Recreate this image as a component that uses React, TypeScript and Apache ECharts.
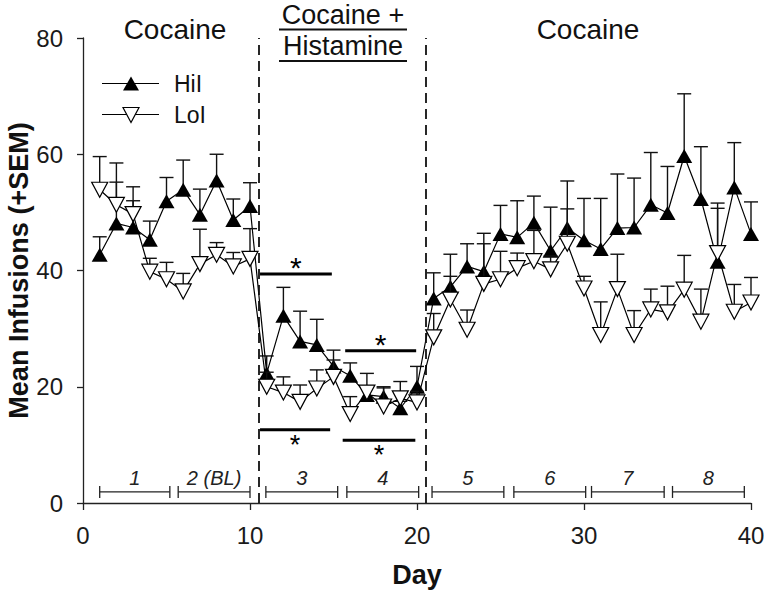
import React, { useEffect, useRef } from "react";
import * as echarts from "echarts";

const FONT = "'Liberation Sans', Arial, Helvetica, sans-serif";

// Days
const days = [
  1, 2, 3, 4, 5, 6, 7, 8, 9, 10, 11, 12, 13, 14, 15, 16, 17, 18, 19, 20,
  21, 22, 23, 24, 25, 26, 27, 28, 29, 30, 31, 32, 33, 34, 35, 36, 37, 38, 39, 40,
];

// HiI means and SEM
const hiMean = [
  42.7, 48.1, 47.4, 45.3, 51.9, 53.9, 49.6, 55.5, 48.7, 51.1,
  22.3, 32.2, 27.8, 27.2, 23.5, 21.9, 18.6, 18.3, 16.3, 20.0,
  35.2, 37.2, 40.7, 39.8, 46.3, 45.7, 48.2, 43.4, 47.3, 45.2,
  43.7, 47.3, 47.4, 51.3, 49.9, 59.7, 52.3, 41.5, 54.3, 46.3,
];
const hiSem = [
  3.1, 7.1, 4.6, 3.2, 4.1, 5.1, 4.4, 4.5, 3.6, 4.0,
  3.0, 4.9, 5.2, 4.4, 2.8, 2.2, 1.5, 1.5, 1.2, 3.5,
  4.4, 5.6, 3.9, 6.6, 4.9, 6.3, 4.6, 7.5, 8.1, 7.2,
  8.7, 9.3, 8.5, 9.0, 8.0, 10.7, 9.0, 9.2, 7.7, 5.5,
];

// LoI means and SEM
const loMean = [
  53.9, 51.3, 49.7, 39.8, 38.5, 36.4, 41.1, 42.7, 40.7, 42.0,
  20.0, 19.0, 17.4, 19.7, 21.7, 15.3, 19.0, 16.6, 18.0, 17.3,
  28.5, 35.0, 29.8, 37.7, 38.5, 40.4, 41.6, 40.2, 44.6, 36.9,
  28.9, 36.8, 28.9, 33.3, 32.8, 36.7, 31.2, 43.0, 32.9, 34.5,
];
const loSem = [
  5.7, 7.2, 4.7, 2.3, 2.9, 3.1, 6.0, 2.1, 2.4, 5.2,
  2.5, 2.7, 2.9, 3.2, 2.9, 3.0, 3.3, 3.4, 2.9, 1.9,
  4.1, 4.0, 3.4, 6.9, 4.8, 2.6, 5.3, 2.3, 6.0, 2.1,
  5.7, 6.0, 4.2, 3.5, 4.5, 5.9, 5.6, 8.6, 4.7, 4.3,
];

// Phase boundaries (dashed lines)
const phaseBoundaries = [10.5, 20.5];

// Block brackets at the bottom
const blockLabels = ["1", "2 (BL)", "3", "4", "5", "6", "7", "8"];
const blockStart = [1.0, 5.7, 10.95, 15.8, 20.9, 25.8, 30.45, 35.3];
const blockEnd = [5.2, 10.0, 15.25, 20.1, 25.2, 30.1, 34.8, 39.6];
const blockLevel = 1.9;

// Significance bars
const sigStart = [10.6, 10.6, 15.7, 15.55];
const sigEnd = [14.9, 14.8, 19.95, 19.9];
const sigLevel = [39.4, 12.6, 26.2, 10.8];
const sigSide = ["above", "below", "above", "below"];

const errorBarItem = (params: any, api: any) => {
  const x = api.value(0);
  const lo = api.value(1);
  const hi = api.value(2);
  const p0 = api.coord([x, lo]);
  const p1 = api.coord([x, hi]);
  const st = { stroke: "#111", lineWidth: 1.4 };
  return {
    type: "group",
    children: [
      { type: "line", shape: { x1: p0[0], y1: p0[1], x2: p1[0], y2: p1[1] }, style: st },
      { type: "line", shape: { x1: p1[0] - 7, y1: p1[1], x2: p1[0] + 7, y2: p1[1] }, style: st },
    ],
  };
};

export default function App() {
  const ref = useRef<HTMLDivElement>(null);
  useEffect(() => {
    if (!ref.current) return;
    const chart = echarts.init(ref.current, undefined, { renderer: "svg" });

    const axisLine = { show: true, lineStyle: { color: "#222", width: 1.3 } };
    const option: any = {
      animation: false,
      backgroundColor: "#fff",
      grid: { left: 83, right: 13, top: 38, bottom: 87, containLabel: false, outerBoundsMode: "none" },
      xAxis: {
        type: "value",
        min: 0,
        max: 40,
        interval: 10,
        axisLine,
        axisTick: { show: true, length: 7, lineStyle: { color: "#222", width: 1.3 } },
        axisLabel: { fontSize: 24, color: "#1a1a1a", margin: 20, fontFamily: FONT },
        splitLine: { show: false },
        name: "Day",
        nameLocation: "middle",
        nameGap: 58,
        nameMoveOverlap: false,
        nameTextStyle: { fontSize: 27, fontWeight: "bold", color: "#111", fontFamily: FONT },
      },
      yAxis: {
        type: "value",
        min: 0,
        max: 80,
        interval: 20,
        axisLine,
        axisTick: { show: true, length: 6, lineStyle: { color: "#222", width: 1.3 } },
        axisLabel: { fontSize: 24, color: "#1a1a1a", margin: 20, fontFamily: FONT },
        splitLine: { show: false },
        name: "Mean Infusions (+SEM)",
        nameLocation: "middle",
        nameGap: 51,
        nameMoveOverlap: false,
        nameTextStyle: { fontSize: 27, fontWeight: "bold", color: "#111", fontFamily: FONT },
      },
      series: [
        {
          type: "custom",
          name: "HiI SEM",
          renderItem: errorBarItem,
          encode: { x: 0, y: [1, 2] },
          data: days.map((d, i) => [d, hiMean[i], +(hiMean[i] + hiSem[i]).toFixed(2)]),
          z: 2,
          silent: true,
        },
        {
          type: "line",
          name: "HiI",
          data: days.map((d, i) => [d, hiMean[i]]),
          symbol: "triangle",
          symbolSize: [16, 14],
          showAllSymbol: true,
          itemStyle: { color: "#000" },
          lineStyle: { color: "#000", width: 1.2 },
          z: 3,
          markLine: {
            silent: true,
            symbol: "none",
            label: { show: false },
            lineStyle: { color: "#111", type: [10, 6], width: 1.8 },
            data: phaseBoundaries.map((b) => ({ xAxis: b })),
          },
        },
        {
          type: "custom",
          name: "LoI SEM",
          renderItem: errorBarItem,
          encode: { x: 0, y: [1, 2] },
          data: days.map((d, i) => [d, loMean[i], +(loMean[i] + loSem[i]).toFixed(2)]),
          z: 4,
          silent: true,
        },
        {
          type: "line",
          name: "LoI",
          data: days.map((d, i) => [d, loMean[i]]),
          symbol: "triangle",
          symbolRotate: 180,
          symbolSize: [16, 15],
          showAllSymbol: true,
          itemStyle: { color: "#fff", borderColor: "#000", borderWidth: 1.2 },
          lineStyle: { color: "#000", width: 1.2 },
          z: 5,
        },
        {
          type: "custom",
          name: "significance",
          silent: true,
          clip: false,
          encode: { x: [0, 1], y: 2 },
          data: sigStart.map((s, i) => [s, sigEnd[i], sigLevel[i]]),
          renderItem: (params: any, api: any) => {
            const i = params.dataIndex;
            const a = api.coord([api.value(0), api.value(2)]);
            const b = api.coord([api.value(1), api.value(2)]);
            const mx = (a[0] + b[0]) / 2;
            const above = sigSide[i] === "above";
            const ty = above ? a[1] - 6 : a[1] + 15;
            return {
              type: "group",
              children: [
                { type: "line", shape: { x1: a[0], y1: a[1], x2: b[0], y2: b[1] }, style: { stroke: "#000", lineWidth: 3 } },
                {
                  type: "text",
                  x: mx,
                  y: ty,
                  style: {
                    text: "*",
                    fontSize: above ? 30 : 27,
                    fontFamily: FONT,
                    fill: "#000",
                    align: "center",
                    verticalAlign: "middle",
                  },
                },
              ],
            };
          },
          z: 6,
        },
        {
          type: "custom",
          name: "blocks",
          silent: true,
          clip: false,
          encode: { x: [0, 1], y: 2 },
          data: blockStart.map((s, i) => [s, blockEnd[i], blockLevel]),
          renderItem: (params: any, api: any) => {
            const i = params.dataIndex;
            const a = api.coord([api.value(0), api.value(2)]);
            const b = api.coord([api.value(1), api.value(2)]);
            const st = { stroke: "#222", lineWidth: 1.3 };
            return {
              type: "group",
              children: [
                { type: "line", shape: { x1: a[0], y1: a[1], x2: b[0], y2: b[1] }, style: st },
                { type: "line", shape: { x1: a[0], y1: a[1] - 6, x2: a[0], y2: a[1] + 6 }, style: st },
                { type: "line", shape: { x1: b[0], y1: b[1] - 6, x2: b[0], y2: b[1] + 6 }, style: st },
                {
                  type: "text",
                  x: (a[0] + b[0]) / 2,
                  y: a[1] - 14,
                  style: {
                    text: blockLabels[i],
                    fontSize: 20,
                    fontStyle: "italic",
                    fontFamily: FONT,
                    fill: "#222",
                    align: "center",
                    verticalAlign: "middle",
                  },
                },
              ],
            };
          },
          z: 6,
        },
      ],
      graphic: [
        {
          type: "text",
          x: 175,
          y: 29,
          style: { text: "Cocaine", fontSize: 28, fontFamily: FONT, fill: "#111", textAlign: "center", textVerticalAlign: "middle" },
        },
        {
          type: "text",
          x: 343,
          y: 14.5,
          style: { text: "Cocaine +", fontSize: 27, fontFamily: FONT, fill: "#111", textAlign: "center", textVerticalAlign: "middle" },
        },
        {
          type: "text",
          x: 343,
          y: 45.5,
          style: { text: "Histamine", fontSize: 27, fontFamily: FONT, fill: "#111", textAlign: "center", textVerticalAlign: "middle" },
        },
        { type: "line", shape: { x1: 279, y1: 29.5, x2: 407, y2: 29.5 }, style: { stroke: "#111", lineWidth: 2 } },
        { type: "line", shape: { x1: 279, y1: 61, x2: 407, y2: 61 }, style: { stroke: "#111", lineWidth: 2 } },
        {
          type: "text",
          x: 588,
          y: 29,
          style: { text: "Cocaine", fontSize: 28, fontFamily: FONT, fill: "#111", textAlign: "center", textVerticalAlign: "middle" },
        },
        // legend
        { type: "line", shape: { x1: 102, y1: 83.5, x2: 159, y2: 83.5 }, style: { stroke: "#000", lineWidth: 1.2 } },
        { type: "polygon", shape: { points: [[123, 90.5], [139, 90.5], [131, 76.5]] }, style: { fill: "#000" } },
        {
          type: "text",
          x: 174,
          y: 83.5,
          style: { text: "HiI", fontSize: 23, fontFamily: FONT, fill: "#111", textAlign: "left", textVerticalAlign: "middle" },
        },
        { type: "line", shape: { x1: 102, y1: 114.5, x2: 159, y2: 114.5 }, style: { stroke: "#000", lineWidth: 1.2 } },
        {
          type: "polygon",
          shape: { points: [[123, 107.5], [139, 107.5], [131, 122.5]] },
          style: { fill: "#fff", stroke: "#000", lineWidth: 1.2 },
        },
        {
          type: "text",
          x: 174,
          y: 114.5,
          style: { text: "LoI", fontSize: 23, fontFamily: FONT, fill: "#111", textAlign: "left", textVerticalAlign: "middle" },
        },
      ],
    };
    chart.setOption(option);
    return () => chart.dispose();
  }, []);
  return (
    <div
      ref={ref}
      style={{ position: "fixed", left: 0, top: 0, width: 764, height: 590, background: "#fff" }}
    />
  );
}
